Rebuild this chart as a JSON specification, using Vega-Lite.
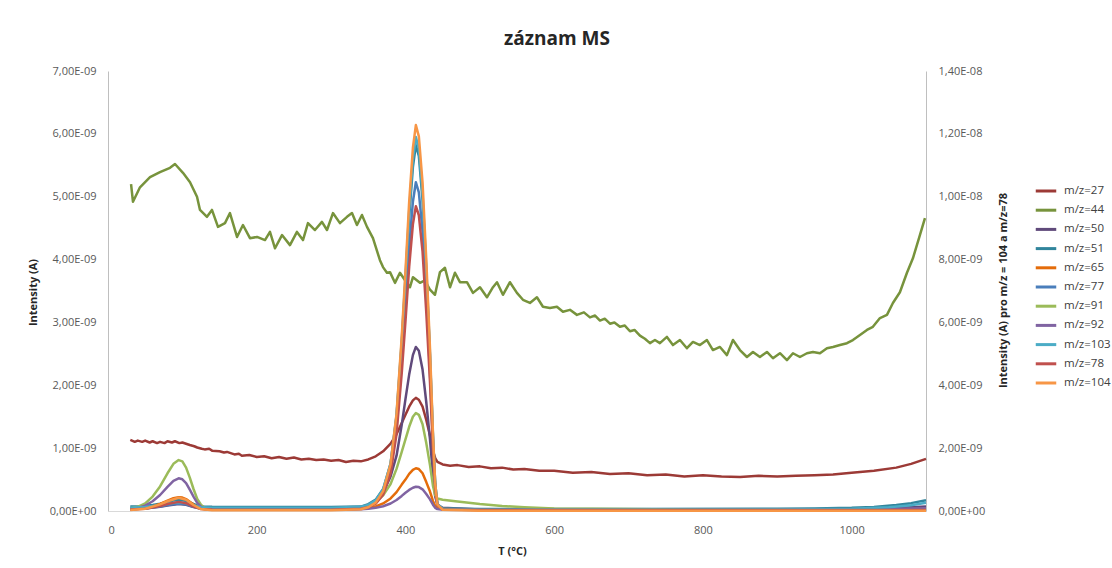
{
"$schema": "https://vega.github.io/schema/vega-lite/v6.json",
"width": 818, "height": 440,
"autosize": {"type": "none"},
"padding": {"left": 108, "top": 71, "right": 186, "bottom": 57},
"background": "white",
"config": {"view": {"stroke": null}, "font": "Open Sans",
 "axis": {"grid": false, "labelFont": "Open Sans", "labelFontSize": 11, "labelColor": "#595959", "titleFont": "Open Sans", "titleFontSize": 11, "titleFontWeight": "bold", "titleColor": "#262626", "domainColor": "#BFBFBF", "ticks": false}},
"title": {"text": "záznam MS", "fontSize": 19, "fontWeight": "bold", "font": "Open Sans", "color": "#262626", "anchor": "middle", "dx": 40, "offset": 16},
"datasets": {"ms": [
{"mz":"m/z=27","T":30,"I":1.13e-9},{"mz":"m/z=27","T":36,"I":1.10e-9},{"mz":"m/z=27","T":40,"I":1.12e-9},{"mz":"m/z=27","T":46,"I":1.10e-9},{"mz":"m/z=27","T":50,"I":1.12e-9},{"mz":"m/z=27","T":56,"I":1.09e-9},{"mz":"m/z=27","T":60,"I":1.11e-9},{"mz":"m/z=27","T":66,"I":1.08e-9},{"mz":"m/z=27","T":70,"I":1.10e-9},{"mz":"m/z=27","T":76,"I":1.08e-9},{"mz":"m/z=27","T":80,"I":1.11e-9},{"mz":"m/z=27","T":86,"I":1.09e-9},{"mz":"m/z=27","T":90,"I":1.11e-9},{"mz":"m/z=27","T":96,"I":1.08e-9},{"mz":"m/z=27","T":100,"I":1.09e-9},{"mz":"m/z=27","T":110,"I":1.05e-9},{"mz":"m/z=27","T":116,"I":1.03e-9},{"mz":"m/z=27","T":120,"I":1.01e-9},{"mz":"m/z=27","T":126,"I":0.99e-9},{"mz":"m/z=27","T":130,"I":0.98e-9},{"mz":"m/z=27","T":136,"I":0.99e-9},{"mz":"m/z=27","T":140,"I":0.96e-9},{"mz":"m/z=27","T":150,"I":0.95e-9},{"mz":"m/z=27","T":156,"I":0.93e-9},{"mz":"m/z=27","T":160,"I":0.94e-9},{"mz":"m/z=27","T":170,"I":0.90e-9},{"mz":"m/z=27","T":176,"I":0.91e-9},{"mz":"m/z=27","T":180,"I":0.88e-9},{"mz":"m/z=27","T":190,"I":0.89e-9},{"mz":"m/z=27","T":200,"I":0.86e-9},{"mz":"m/z=27","T":210,"I":0.87e-9},{"mz":"m/z=27","T":220,"I":0.84e-9},{"mz":"m/z=27","T":230,"I":0.86e-9},{"mz":"m/z=27","T":240,"I":0.83e-9},{"mz":"m/z=27","T":250,"I":0.85e-9},{"mz":"m/z=27","T":260,"I":0.82e-9},{"mz":"m/z=27","T":270,"I":0.83e-9},{"mz":"m/z=27","T":280,"I":0.81e-9},{"mz":"m/z=27","T":290,"I":0.82e-9},{"mz":"m/z=27","T":300,"I":0.80e-9},{"mz":"m/z=27","T":310,"I":0.81e-9},{"mz":"m/z=27","T":320,"I":0.78e-9},{"mz":"m/z=27","T":330,"I":0.80e-9},{"mz":"m/z=27","T":340,"I":0.79e-9},{"mz":"m/z=27","T":350,"I":0.82e-9},{"mz":"m/z=27","T":360,"I":0.87e-9},{"mz":"m/z=27","T":370,"I":0.95e-9},{"mz":"m/z=27","T":380,"I":1.07e-9},{"mz":"m/z=27","T":388,"I":1.22e-9},{"mz":"m/z=27","T":395,"I":1.40e-9},{"mz":"m/z=27","T":400,"I":1.53e-9},{"mz":"m/z=27","T":405,"I":1.66e-9},{"mz":"m/z=27","T":410,"I":1.76e-9},{"mz":"m/z=27","T":414,"I":1.80e-9},{"mz":"m/z=27","T":418,"I":1.77e-9},{"mz":"m/z=27","T":423,"I":1.66e-9},{"mz":"m/z=27","T":428,"I":1.45e-9},{"mz":"m/z=27","T":433,"I":1.20e-9},{"mz":"m/z=27","T":437,"I":0.96e-9},{"mz":"m/z=27","T":440,"I":0.84e-9},{"mz":"m/z=27","T":443,"I":0.78e-9},{"mz":"m/z=27","T":450,"I":0.74e-9},{"mz":"m/z=27","T":460,"I":0.72e-9},{"mz":"m/z=27","T":470,"I":0.73e-9},{"mz":"m/z=27","T":485,"I":0.70e-9},{"mz":"m/z=27","T":500,"I":0.71e-9},{"mz":"m/z=27","T":515,"I":0.68e-9},{"mz":"m/z=27","T":530,"I":0.69e-9},{"mz":"m/z=27","T":545,"I":0.66e-9},{"mz":"m/z=27","T":560,"I":0.67e-9},{"mz":"m/z=27","T":580,"I":0.64e-9},{"mz":"m/z=27","T":600,"I":0.64e-9},{"mz":"m/z=27","T":625,"I":0.61e-9},{"mz":"m/z=27","T":650,"I":0.62e-9},{"mz":"m/z=27","T":675,"I":0.59e-9},{"mz":"m/z=27","T":700,"I":0.60e-9},{"mz":"m/z=27","T":725,"I":0.57e-9},{"mz":"m/z=27","T":750,"I":0.58e-9},{"mz":"m/z=27","T":775,"I":0.55e-9},{"mz":"m/z=27","T":800,"I":0.57e-9},{"mz":"m/z=27","T":825,"I":0.55e-9},{"mz":"m/z=27","T":850,"I":0.54e-9},{"mz":"m/z=27","T":875,"I":0.56e-9},{"mz":"m/z=27","T":900,"I":0.55e-9},{"mz":"m/z=27","T":925,"I":0.56e-9},{"mz":"m/z=27","T":950,"I":0.57e-9},{"mz":"m/z=27","T":975,"I":0.58e-9},{"mz":"m/z=27","T":1000,"I":0.61e-9},{"mz":"m/z=27","T":1030,"I":0.64e-9},{"mz":"m/z=27","T":1060,"I":0.69e-9},{"mz":"m/z=27","T":1080,"I":0.75e-9},{"mz":"m/z=27","T":1100,"I":0.83e-9},
{"mz":"m/z=44","T":31,"I":5.20e-9},{"mz":"m/z=44","T":33.6,"I":4.92e-9},{"mz":"m/z=44","T":43,"I":5.15e-9},{"mz":"m/z=44","T":56.5,"I":5.31e-9},{"mz":"m/z=44","T":69.9,"I":5.39e-9},{"mz":"m/z=44","T":83.4,"I":5.46e-9},{"mz":"m/z=44","T":90.1,"I":5.52e-9},{"mz":"m/z=44","T":100.8,"I":5.38e-9},{"mz":"m/z=44","T":110.3,"I":5.23e-9},{"mz":"m/z=44","T":119.7,"I":5.00e-9},{"mz":"m/z=44","T":123.7,"I":4.79e-9},{"mz":"m/z=44","T":133.1,"I":4.68e-9},{"mz":"m/z=44","T":139.8,"I":4.79e-9},{"mz":"m/z=44","T":147.9,"I":4.52e-9},{"mz":"m/z=44","T":157.3,"I":4.58e-9},{"mz":"m/z=44","T":164,"I":4.74e-9},{"mz":"m/z=44","T":173.5,"I":4.36e-9},{"mz":"m/z=44","T":181.5,"I":4.55e-9},{"mz":"m/z=44","T":190.9,"I":4.34e-9},{"mz":"m/z=44","T":200.4,"I":4.36e-9},{"mz":"m/z=44","T":211.1,"I":4.31e-9},{"mz":"m/z=44","T":217.8,"I":4.44e-9},{"mz":"m/z=44","T":224.6,"I":4.18e-9},{"mz":"m/z=44","T":234,"I":4.39e-9},{"mz":"m/z=44","T":244.7,"I":4.23e-9},{"mz":"m/z=44","T":254.1,"I":4.44e-9},{"mz":"m/z=44","T":262.2,"I":4.31e-9},{"mz":"m/z=44","T":268.9,"I":4.58e-9},{"mz":"m/z=44","T":278.3,"I":4.47e-9},{"mz":"m/z=44","T":287.7,"I":4.60e-9},{"mz":"m/z=44","T":294.5,"I":4.47e-9},{"mz":"m/z=44","T":302.5,"I":4.74e-9},{"mz":"m/z=44","T":311.9,"I":4.58e-9},{"mz":"m/z=44","T":321.4,"I":4.68e-9},{"mz":"m/z=44","T":328.1,"I":4.74e-9},{"mz":"m/z=44","T":334.8,"I":4.55e-9},{"mz":"m/z=44","T":341.5,"I":4.71e-9},{"mz":"m/z=44","T":348.3,"I":4.52e-9},{"mz":"m/z=44","T":356.3,"I":4.34e-9},{"mz":"m/z=44","T":365.7,"I":3.99e-9},{"mz":"m/z=44","T":369.8,"I":3.88e-9},{"mz":"m/z=44","T":375.1,"I":3.79e-9},{"mz":"m/z=44","T":379.2,"I":3.80e-9},{"mz":"m/z=44","T":385.9,"I":3.63e-9},{"mz":"m/z=44","T":392.6,"I":3.79e-9},{"mz":"m/z=44","T":399.4,"I":3.67e-9},{"mz":"m/z=44","T":406.1,"I":3.56e-9},{"mz":"m/z=44","T":410.1,"I":3.72e-9},{"mz":"m/z=44","T":419.5,"I":3.63e-9},{"mz":"m/z=44","T":426.2,"I":3.67e-9},{"mz":"m/z=44","T":433,"I":3.52e-9},{"mz":"m/z=44","T":439.7,"I":3.44e-9},{"mz":"m/z=44","T":446.4,"I":3.80e-9},{"mz":"m/z=44","T":453.1,"I":3.87e-9},{"mz":"m/z=44","T":459.9,"I":3.56e-9},{"mz":"m/z=44","T":466.6,"I":3.79e-9},{"mz":"m/z=44","T":473.3,"I":3.64e-9},{"mz":"m/z=44","T":482.7,"I":3.64e-9},{"mz":"m/z=44","T":490.8,"I":3.47e-9},{"mz":"m/z=44","T":500.2,"I":3.56e-9},{"mz":"m/z=44","T":509.6,"I":3.40e-9},{"mz":"m/z=44","T":517.7,"I":3.56e-9},{"mz":"m/z=44","T":523.1,"I":3.64e-9},{"mz":"m/z=44","T":531.1,"I":3.44e-9},{"mz":"m/z=44","T":540.5,"I":3.64e-9},{"mz":"m/z=44","T":549.9,"I":3.47e-9},{"mz":"m/z=44","T":558,"I":3.36e-9},{"mz":"m/z=44","T":567.4,"I":3.31e-9},{"mz":"m/z=44","T":576.8,"I":3.40e-9},{"mz":"m/z=44","T":584.9,"I":3.25e-9},{"mz":"m/z=44","T":594.3,"I":3.23e-9},{"mz":"m/z=44","T":603.7,"I":3.25e-9},{"mz":"m/z=44","T":611.8,"I":3.17e-9},{"mz":"m/z=44","T":621.2,"I":3.20e-9},{"mz":"m/z=44","T":630.6,"I":3.12e-9},{"mz":"m/z=44","T":640,"I":3.16e-9},{"mz":"m/z=44","T":648.1,"I":3.08e-9},{"mz":"m/z=44","T":655,"I":3.11e-9},{"mz":"m/z=44","T":661.6,"I":3.03e-9},{"mz":"m/z=44","T":668,"I":3.06e-9},{"mz":"m/z=44","T":675,"I":2.98e-9},{"mz":"m/z=44","T":681,"I":3.00e-9},{"mz":"m/z=44","T":688.4,"I":2.93e-9},{"mz":"m/z=44","T":695,"I":2.95e-9},{"mz":"m/z=44","T":701.9,"I":2.86e-9},{"mz":"m/z=44","T":708,"I":2.88e-9},{"mz":"m/z=44","T":715.3,"I":2.79e-9},{"mz":"m/z=44","T":722,"I":2.74e-9},{"mz":"m/z=44","T":728.8,"I":2.67e-9},{"mz":"m/z=44","T":735.5,"I":2.72e-9},{"mz":"m/z=44","T":742.2,"I":2.67e-9},{"mz":"m/z=44","T":751.6,"I":2.77e-9},{"mz":"m/z=44","T":759.7,"I":2.64e-9},{"mz":"m/z=44","T":769.1,"I":2.72e-9},{"mz":"m/z=44","T":778.5,"I":2.59e-9},{"mz":"m/z=44","T":786.6,"I":2.69e-9},{"mz":"m/z=44","T":796,"I":2.64e-9},{"mz":"m/z=44","T":805.4,"I":2.72e-9},{"mz":"m/z=44","T":813.5,"I":2.56e-9},{"mz":"m/z=44","T":822.9,"I":2.61e-9},{"mz":"m/z=44","T":832.3,"I":2.48e-9},{"mz":"m/z=44","T":840.4,"I":2.72e-9},{"mz":"m/z=44","T":849.8,"I":2.56e-9},{"mz":"m/z=44","T":859.2,"I":2.45e-9},{"mz":"m/z=44","T":867.3,"I":2.53e-9},{"mz":"m/z=44","T":876.7,"I":2.45e-9},{"mz":"m/z=44","T":886.1,"I":2.53e-9},{"mz":"m/z=44","T":894.2,"I":2.43e-9},{"mz":"m/z=44","T":903.6,"I":2.51e-9},{"mz":"m/z=44","T":913,"I":2.40e-9},{"mz":"m/z=44","T":921.1,"I":2.51e-9},{"mz":"m/z=44","T":930.5,"I":2.45e-9},{"mz":"m/z=44","T":939.9,"I":2.51e-9},{"mz":"m/z=44","T":948,"I":2.53e-9},{"mz":"m/z=44","T":957.4,"I":2.51e-9},{"mz":"m/z=44","T":966.8,"I":2.59e-9},{"mz":"m/z=44","T":974.9,"I":2.61e-9},{"mz":"m/z=44","T":984.3,"I":2.64e-9},{"mz":"m/z=44","T":993.7,"I":2.67e-9},{"mz":"m/z=44","T":1001.7,"I":2.72e-9},{"mz":"m/z=44","T":1011.2,"I":2.80e-9},{"mz":"m/z=44","T":1020.6,"I":2.88e-9},{"mz":"m/z=44","T":1028.6,"I":2.93e-9},{"mz":"m/z=44","T":1038.1,"I":3.07e-9},{"mz":"m/z=44","T":1047.5,"I":3.12e-9},{"mz":"m/z=44","T":1055.5,"I":3.31e-9},{"mz":"m/z=44","T":1064.9,"I":3.48e-9},{"mz":"m/z=44","T":1074.4,"I":3.79e-9},{"mz":"m/z=44","T":1082.4,"I":4.02e-9},{"mz":"m/z=44","T":1091.8,"I":4.39e-9},{"mz":"m/z=44","T":1098.6,"I":4.66e-9},
{"mz":"m/z=50","T":30,"I":0.032e-9},{"mz":"m/z=50","T":50,"I":0.04e-9},{"mz":"m/z=50","T":70,"I":0.068e-9},{"mz":"m/z=50","T":80,"I":0.088e-9},{"mz":"m/z=50","T":95,"I":0.11e-9},{"mz":"m/z=50","T":105,"I":0.098e-9},{"mz":"m/z=50","T":115,"I":0.064e-9},{"mz":"m/z=50","T":125,"I":0.038e-9},{"mz":"m/z=50","T":140,"I":0.031e-9},{"mz":"m/z=50","T":200,"I":0.03e-9},{"mz":"m/z=50","T":300,"I":0.03e-9},{"mz":"m/z=50","T":340,"I":0.056e-9},{"mz":"m/z=50","T":350,"I":0.082e-9},{"mz":"m/z=50","T":360,"I":0.16e-9},{"mz":"m/z=50","T":370,"I":0.29e-9},{"mz":"m/z=50","T":380,"I":0.55e-9},{"mz":"m/z=50","T":388,"I":0.88e-9},{"mz":"m/z=50","T":395,"I":1.37e-9},{"mz":"m/z=50","T":400,"I":1.78e-9},{"mz":"m/z=50","T":405,"I":2.17e-9},{"mz":"m/z=50","T":410,"I":2.48e-9},{"mz":"m/z=50","T":414,"I":2.61e-9},{"mz":"m/z=50","T":418,"I":2.55e-9},{"mz":"m/z=50","T":423,"I":2.25e-9},{"mz":"m/z=50","T":428,"I":1.73e-9},{"mz":"m/z=50","T":433,"I":1.14e-9},{"mz":"m/z=50","T":437,"I":0.57e-9},{"mz":"m/z=50","T":440,"I":0.23e-9},{"mz":"m/z=50","T":443,"I":0.1e-9},{"mz":"m/z=50","T":450,"I":0.05e-9},{"mz":"m/z=50","T":500,"I":0.025e-9},{"mz":"m/z=50","T":700,"I":0.02e-9},{"mz":"m/z=50","T":900,"I":0.025e-9},{"mz":"m/z=50","T":1000,"I":0.03e-9},{"mz":"m/z=50","T":1050,"I":0.045e-9},{"mz":"m/z=50","T":1080,"I":0.06e-9},{"mz":"m/z=50","T":1100,"I":0.07e-9},
{"mz":"m/z=51","T":30,"I":0.07e-9},{"mz":"m/z=51","T":40,"I":0.072e-9},{"mz":"m/z=51","T":50,"I":0.08e-9},{"mz":"m/z=51","T":60,"I":0.095e-9},{"mz":"m/z=51","T":70,"I":0.117e-9},{"mz":"m/z=51","T":80,"I":0.145e-9},{"mz":"m/z=51","T":88,"I":0.166e-9},{"mz":"m/z=51","T":95,"I":0.175e-9},{"mz":"m/z=51","T":100,"I":0.172e-9},{"mz":"m/z=51","T":105,"I":0.158e-9},{"mz":"m/z=51","T":110,"I":0.135e-9},{"mz":"m/z=51","T":115,"I":0.111e-9},{"mz":"m/z=51","T":120,"I":0.089e-9},{"mz":"m/z=51","T":125,"I":0.076e-9},{"mz":"m/z=51","T":130,"I":0.069e-9},{"mz":"m/z=51","T":140,"I":0.066e-9},{"mz":"m/z=51","T":200,"I":0.064e-9},{"mz":"m/z=51","T":250,"I":0.065e-9},{"mz":"m/z=51","T":300,"I":0.063e-9},{"mz":"m/z=51","T":340,"I":0.07e-9},{"mz":"m/z=51","T":350,"I":0.11e-9},{"mz":"m/z=51","T":360,"I":0.18e-9},{"mz":"m/z=51","T":370,"I":0.35e-9},{"mz":"m/z=51","T":380,"I":0.75e-9},{"mz":"m/z=51","T":388,"I":1.5e-9},{"mz":"m/z=51","T":395,"I":2.65e-9},{"mz":"m/z=51","T":400,"I":3.65e-9},{"mz":"m/z=51","T":405,"I":4.68e-9},{"mz":"m/z=51","T":410,"I":5.47e-9},{"mz":"m/z=51","T":414,"I":5.82e-9},{"mz":"m/z=51","T":418,"I":5.65e-9},{"mz":"m/z=51","T":423,"I":4.95e-9},{"mz":"m/z=51","T":428,"I":3.8e-9},{"mz":"m/z=51","T":433,"I":2.45e-9},{"mz":"m/z=51","T":437,"I":1.18e-9},{"mz":"m/z=51","T":440,"I":0.43e-9},{"mz":"m/z=51","T":443,"I":0.11e-9},{"mz":"m/z=51","T":450,"I":0.04e-9},{"mz":"m/z=51","T":500,"I":0.03e-9},{"mz":"m/z=51","T":700,"I":0.03e-9},{"mz":"m/z=51","T":900,"I":0.035e-9},{"mz":"m/z=51","T":950,"I":0.04e-9},{"mz":"m/z=51","T":1000,"I":0.05e-9},{"mz":"m/z=51","T":1030,"I":0.065e-9},{"mz":"m/z=51","T":1060,"I":0.095e-9},{"mz":"m/z=51","T":1080,"I":0.125e-9},{"mz":"m/z=51","T":1100,"I":0.17e-9},
{"mz":"m/z=65","T":30,"I":0.026e-9},{"mz":"m/z=65","T":40,"I":0.032e-9},{"mz":"m/z=65","T":50,"I":0.046e-9},{"mz":"m/z=65","T":60,"I":0.074e-9},{"mz":"m/z=65","T":70,"I":0.114e-9},{"mz":"m/z=65","T":80,"I":0.166e-9},{"mz":"m/z=65","T":88,"I":0.204e-9},{"mz":"m/z=65","T":95,"I":0.22e-9},{"mz":"m/z=65","T":100,"I":0.214e-9},{"mz":"m/z=65","T":105,"I":0.19e-9},{"mz":"m/z=65","T":110,"I":0.148e-9},{"mz":"m/z=65","T":115,"I":0.104e-9},{"mz":"m/z=65","T":120,"I":0.064e-9},{"mz":"m/z=65","T":125,"I":0.04e-9},{"mz":"m/z=65","T":130,"I":0.028e-9},{"mz":"m/z=65","T":140,"I":0.022e-9},{"mz":"m/z=65","T":200,"I":0.02e-9},{"mz":"m/z=65","T":300,"I":0.02e-9},{"mz":"m/z=65","T":340,"I":0.033e-9},{"mz":"m/z=65","T":350,"I":0.046e-9},{"mz":"m/z=65","T":360,"I":0.073e-9},{"mz":"m/z=65","T":370,"I":0.12e-9},{"mz":"m/z=65","T":380,"I":0.2e-9},{"mz":"m/z=65","T":388,"I":0.3e-9},{"mz":"m/z=65","T":395,"I":0.42e-9},{"mz":"m/z=65","T":400,"I":0.5e-9},{"mz":"m/z=65","T":405,"I":0.59e-9},{"mz":"m/z=65","T":410,"I":0.655e-9},{"mz":"m/z=65","T":414,"I":0.68e-9},{"mz":"m/z=65","T":418,"I":0.667e-9},{"mz":"m/z=65","T":423,"I":0.6e-9},{"mz":"m/z=65","T":428,"I":0.46e-9},{"mz":"m/z=65","T":433,"I":0.31e-9},{"mz":"m/z=65","T":437,"I":0.16e-9},{"mz":"m/z=65","T":440,"I":0.08e-9},{"mz":"m/z=65","T":443,"I":0.045e-9},{"mz":"m/z=65","T":450,"I":0.03e-9},{"mz":"m/z=65","T":500,"I":0.015e-9},{"mz":"m/z=65","T":600,"I":0.01e-9},{"mz":"m/z=65","T":1100,"I":0.01e-9},
{"mz":"m/z=77","T":30,"I":0.033e-9},{"mz":"m/z=77","T":50,"I":0.042e-9},{"mz":"m/z=77","T":70,"I":0.072e-9},{"mz":"m/z=77","T":80,"I":0.096e-9},{"mz":"m/z=77","T":95,"I":0.12e-9},{"mz":"m/z=77","T":105,"I":0.107e-9},{"mz":"m/z=77","T":115,"I":0.068e-9},{"mz":"m/z=77","T":125,"I":0.039e-9},{"mz":"m/z=77","T":140,"I":0.031e-9},{"mz":"m/z=77","T":300,"I":0.03e-9},{"mz":"m/z=77","T":340,"I":0.046e-9},{"mz":"m/z=77","T":350,"I":0.072e-9},{"mz":"m/z=77","T":360,"I":0.134e-9},{"mz":"m/z=77","T":370,"I":0.29e-9},{"mz":"m/z=77","T":380,"I":0.65e-9},{"mz":"m/z=77","T":388,"I":1.33e-9},{"mz":"m/z=77","T":395,"I":2.37e-9},{"mz":"m/z=77","T":400,"I":3.25e-9},{"mz":"m/z=77","T":405,"I":4.19e-9},{"mz":"m/z=77","T":410,"I":4.92e-9},{"mz":"m/z=77","T":414,"I":5.23e-9},{"mz":"m/z=77","T":418,"I":5.07e-9},{"mz":"m/z=77","T":423,"I":4.45e-9},{"mz":"m/z=77","T":428,"I":3.41e-9},{"mz":"m/z=77","T":433,"I":2.2e-9},{"mz":"m/z=77","T":437,"I":1.06e-9},{"mz":"m/z=77","T":440,"I":0.38e-9},{"mz":"m/z=77","T":443,"I":0.09e-9},{"mz":"m/z=77","T":450,"I":0.03e-9},{"mz":"m/z=77","T":500,"I":0.02e-9},{"mz":"m/z=77","T":1100,"I":0.025e-9},
{"mz":"m/z=91","T":30,"I":0.044e-9},{"mz":"m/z=91","T":40,"I":0.067e-9},{"mz":"m/z=91","T":50,"I":0.12e-9},{"mz":"m/z=91","T":60,"I":0.23e-9},{"mz":"m/z=91","T":70,"I":0.39e-9},{"mz":"m/z=91","T":80,"I":0.6e-9},{"mz":"m/z=91","T":88,"I":0.75e-9},{"mz":"m/z=91","T":95,"I":0.81e-9},{"mz":"m/z=91","T":100,"I":0.79e-9},{"mz":"m/z=91","T":105,"I":0.69e-9},{"mz":"m/z=91","T":110,"I":0.53e-9},{"mz":"m/z=91","T":115,"I":0.35e-9},{"mz":"m/z=91","T":120,"I":0.19e-9},{"mz":"m/z=91","T":125,"I":0.1e-9},{"mz":"m/z=91","T":130,"I":0.05e-9},{"mz":"m/z=91","T":140,"I":0.03e-9},{"mz":"m/z=91","T":160,"I":0.02e-9},{"mz":"m/z=91","T":250,"I":0.02e-9},{"mz":"m/z=91","T":340,"I":0.05e-9},{"mz":"m/z=91","T":350,"I":0.08e-9},{"mz":"m/z=91","T":360,"I":0.14e-9},{"mz":"m/z=91","T":370,"I":0.25e-9},{"mz":"m/z=91","T":380,"I":0.43e-9},{"mz":"m/z=91","T":388,"I":0.67e-9},{"mz":"m/z=91","T":395,"I":0.94e-9},{"mz":"m/z=91","T":400,"I":1.14e-9},{"mz":"m/z=91","T":405,"I":1.34e-9},{"mz":"m/z=91","T":410,"I":1.5e-9},{"mz":"m/z=91","T":414,"I":1.56e-9},{"mz":"m/z=91","T":418,"I":1.53e-9},{"mz":"m/z=91","T":423,"I":1.38e-9},{"mz":"m/z=91","T":428,"I":1.08e-9},{"mz":"m/z=91","T":433,"I":0.73e-9},{"mz":"m/z=91","T":437,"I":0.4e-9},{"mz":"m/z=91","T":440,"I":0.25e-9},{"mz":"m/z=91","T":443,"I":0.2e-9},{"mz":"m/z=91","T":450,"I":0.18e-9},{"mz":"m/z=91","T":470,"I":0.15e-9},{"mz":"m/z=91","T":500,"I":0.11e-9},{"mz":"m/z=91","T":530,"I":0.08e-9},{"mz":"m/z=91","T":560,"I":0.06e-9},{"mz":"m/z=91","T":600,"I":0.04e-9},{"mz":"m/z=91","T":700,"I":0.03e-9},{"mz":"m/z=91","T":800,"I":0.02e-9},{"mz":"m/z=91","T":1000,"I":0.02e-9},{"mz":"m/z=91","T":1100,"I":0.03e-9},
{"mz":"m/z=92","T":30,"I":0.035e-9},{"mz":"m/z=92","T":40,"I":0.05e-9},{"mz":"m/z=92","T":50,"I":0.085e-9},{"mz":"m/z=92","T":60,"I":0.155e-9},{"mz":"m/z=92","T":70,"I":0.255e-9},{"mz":"m/z=92","T":80,"I":0.385e-9},{"mz":"m/z=92","T":88,"I":0.48e-9},{"mz":"m/z=92","T":95,"I":0.52e-9},{"mz":"m/z=92","T":100,"I":0.505e-9},{"mz":"m/z=92","T":105,"I":0.445e-9},{"mz":"m/z=92","T":110,"I":0.34e-9},{"mz":"m/z=92","T":115,"I":0.23e-9},{"mz":"m/z=92","T":120,"I":0.13e-9},{"mz":"m/z=92","T":125,"I":0.07e-9},{"mz":"m/z=92","T":130,"I":0.04e-9},{"mz":"m/z=92","T":140,"I":0.025e-9},{"mz":"m/z=92","T":200,"I":0.02e-9},{"mz":"m/z=92","T":300,"I":0.02e-9},{"mz":"m/z=92","T":340,"I":0.027e-9},{"mz":"m/z=92","T":350,"I":0.035e-9},{"mz":"m/z=92","T":360,"I":0.05e-9},{"mz":"m/z=92","T":370,"I":0.075e-9},{"mz":"m/z=92","T":380,"I":0.12e-9},{"mz":"m/z=92","T":388,"I":0.175e-9},{"mz":"m/z=92","T":395,"I":0.24e-9},{"mz":"m/z=92","T":400,"I":0.29e-9},{"mz":"m/z=92","T":405,"I":0.335e-9},{"mz":"m/z=92","T":410,"I":0.37e-9},{"mz":"m/z=92","T":414,"I":0.385e-9},{"mz":"m/z=92","T":418,"I":0.38e-9},{"mz":"m/z=92","T":423,"I":0.345e-9},{"mz":"m/z=92","T":428,"I":0.27e-9},{"mz":"m/z=92","T":433,"I":0.185e-9},{"mz":"m/z=92","T":437,"I":0.1e-9},{"mz":"m/z=92","T":440,"I":0.05e-9},{"mz":"m/z=92","T":443,"I":0.03e-9},{"mz":"m/z=92","T":450,"I":0.02e-9},{"mz":"m/z=92","T":600,"I":0.015e-9},{"mz":"m/z=92","T":900,"I":0.015e-9},{"mz":"m/z=92","T":1000,"I":0.02e-9},{"mz":"m/z=92","T":1050,"I":0.03e-9},{"mz":"m/z=92","T":1100,"I":0.045e-9},
{"mz":"m/z=103","T":30,"I":0.053e-9},{"mz":"m/z=103","T":50,"I":0.062e-9},{"mz":"m/z=103","T":70,"I":0.092e-9},{"mz":"m/z=103","T":80,"I":0.116e-9},{"mz":"m/z=103","T":95,"I":0.14e-9},{"mz":"m/z=103","T":105,"I":0.127e-9},{"mz":"m/z=103","T":115,"I":0.088e-9},{"mz":"m/z=103","T":125,"I":0.059e-9},{"mz":"m/z=103","T":140,"I":0.051e-9},{"mz":"m/z=103","T":200,"I":0.05e-9},{"mz":"m/z=103","T":300,"I":0.05e-9},{"mz":"m/z=103","T":340,"I":0.068e-9},{"mz":"m/z=103","T":350,"I":0.097e-9},{"mz":"m/z=103","T":360,"I":0.168e-9},{"mz":"m/z=103","T":370,"I":0.346e-9},{"mz":"m/z=103","T":380,"I":0.76e-9},{"mz":"m/z=103","T":388,"I":1.53e-9},{"mz":"m/z=103","T":395,"I":2.71e-9},{"mz":"m/z=103","T":400,"I":3.72e-9},{"mz":"m/z=103","T":405,"I":4.78e-9},{"mz":"m/z=103","T":410,"I":5.6e-9},{"mz":"m/z=103","T":414,"I":5.95e-9},{"mz":"m/z=103","T":418,"I":5.77e-9},{"mz":"m/z=103","T":423,"I":5.05e-9},{"mz":"m/z=103","T":428,"I":3.87e-9},{"mz":"m/z=103","T":433,"I":2.5e-9},{"mz":"m/z=103","T":437,"I":1.2e-9},{"mz":"m/z=103","T":440,"I":0.44e-9},{"mz":"m/z=103","T":443,"I":0.11e-9},{"mz":"m/z=103","T":450,"I":0.035e-9},{"mz":"m/z=103","T":500,"I":0.02e-9},{"mz":"m/z=103","T":800,"I":0.02e-9},{"mz":"m/z=103","T":900,"I":0.025e-9},{"mz":"m/z=103","T":1000,"I":0.035e-9},{"mz":"m/z=103","T":1050,"I":0.06e-9},{"mz":"m/z=103","T":1080,"I":0.09e-9},{"mz":"m/z=103","T":1100,"I":0.13e-9},
{"mz":"m/z=78","T":30,"I":0.05e-9},{"mz":"m/z=78","T":50,"I":0.07e-9},{"mz":"m/z=78","T":70,"I":0.16e-9},{"mz":"m/z=78","T":80,"I":0.22e-9},{"mz":"m/z=78","T":95,"I":0.29e-9},{"mz":"m/z=78","T":105,"I":0.25e-9},{"mz":"m/z=78","T":115,"I":0.14e-9},{"mz":"m/z=78","T":125,"I":0.065e-9},{"mz":"m/z=78","T":140,"I":0.045e-9},{"mz":"m/z=78","T":300,"I":0.04e-9},{"mz":"m/z=78","T":340,"I":0.07e-9},{"mz":"m/z=78","T":350,"I":0.117e-9},{"mz":"m/z=78","T":360,"I":0.233e-9},{"mz":"m/z=78","T":370,"I":0.52e-9},{"mz":"m/z=78","T":380,"I":1.2e-9},{"mz":"m/z=78","T":388,"I":2.45e-9},{"mz":"m/z=78","T":395,"I":4.39e-9},{"mz":"m/z=78","T":400,"I":6.03e-9},{"mz":"m/z=78","T":405,"I":7.77e-9},{"mz":"m/z=78","T":410,"I":9.12e-9},{"mz":"m/z=78","T":414,"I":9.7e-9},{"mz":"m/z=78","T":418,"I":9.41e-9},{"mz":"m/z=78","T":423,"I":8.25e-9},{"mz":"m/z=78","T":428,"I":6.32e-9},{"mz":"m/z=78","T":433,"I":4.09e-9},{"mz":"m/z=78","T":437,"I":1.97e-9},{"mz":"m/z=78","T":440,"I":0.72e-9},{"mz":"m/z=78","T":443,"I":0.18e-9},{"mz":"m/z=78","T":450,"I":0.05e-9},{"mz":"m/z=78","T":500,"I":0.03e-9},{"mz":"m/z=78","T":1100,"I":0.03e-9},
{"mz":"m/z=104","T":30,"I":0.03e-9},{"mz":"m/z=104","T":50,"I":0.07e-9},{"mz":"m/z=104","T":70,"I":0.21e-9},{"mz":"m/z=104","T":80,"I":0.31e-9},{"mz":"m/z=104","T":95,"I":0.42e-9},{"mz":"m/z=104","T":105,"I":0.36e-9},{"mz":"m/z=104","T":115,"I":0.19e-9},{"mz":"m/z=104","T":125,"I":0.06e-9},{"mz":"m/z=104","T":140,"I":0.025e-9},{"mz":"m/z=104","T":300,"I":0.02e-9},{"mz":"m/z=104","T":340,"I":0.057e-9},{"mz":"m/z=104","T":350,"I":0.118e-9},{"mz":"m/z=104","T":360,"I":0.266e-9},{"mz":"m/z=104","T":370,"I":0.634e-9},{"mz":"m/z=104","T":380,"I":1.49e-9},{"mz":"m/z=104","T":388,"I":3.09e-9},{"mz":"m/z=104","T":395,"I":5.55e-9},{"mz":"m/z=104","T":400,"I":7.63e-9},{"mz":"m/z=104","T":405,"I":9.84e-9},{"mz":"m/z=104","T":410,"I":11.55e-9},{"mz":"m/z=104","T":414,"I":12.28e-9},{"mz":"m/z=104","T":418,"I":11.92e-9},{"mz":"m/z=104","T":423,"I":10.45e-9},{"mz":"m/z=104","T":428,"I":8.0e-9},{"mz":"m/z=104","T":433,"I":5.17e-9},{"mz":"m/z=104","T":437,"I":2.47e-9},{"mz":"m/z=104","T":440,"I":0.88e-9},{"mz":"m/z=104","T":443,"I":0.2e-9},{"mz":"m/z=104","T":450,"I":0.04e-9},{"mz":"m/z=104","T":500,"I":0.01e-9},{"mz":"m/z=104","T":1100,"I":0.01e-9}
]},
"data": {"name": "ms"},
"encoding": {
 "x": {"field": "T", "type": "quantitative", "scale": {"domain": [0, 1100], "nice": false},
  "axis": {"values": [0, 200, 400, 600, 800, 1000], "format": "d", "title": "T (°C)", "labelPadding": 13, "titleX": 404, "titleY": 40, "titleAlign": "center", "titleBaseline": "middle", "domainColor": "#D9D9D9"}},
 "color": {"field": "mz", "type": "nominal",
  "scale": {"domain": ["m/z=27","m/z=44","m/z=50","m/z=51","m/z=65","m/z=77","m/z=91","m/z=92","m/z=103","m/z=78","m/z=104"],
   "range": ["#9C3A36","#77933C","#604A7B","#31859C","#E46C0A","#4A7EBB","#9BBB59","#8064A2","#4BACC6","#C0504D","#F79646"]},
  "legend": {"title": null, "orient": "none", "legendX": 926, "legendY": 108, "symbolType": "stroke", "symbolSize": 420, "symbolStrokeWidth": 3, "labelFont": "Open Sans", "labelFontSize": 11.5, "labelColor": "#404040", "labelOffset": 6, "rowPadding": 1.2, "padding": 0}}
},
"layer": [
 {"transform": [{"filter": "datum.mz != 'm/z=78' && datum.mz != 'm/z=104'"}],
  "mark": {"type": "line", "strokeWidth": 2.5, "strokeJoin": "round"},
  "encoding": {"y": {"field": "I", "type": "quantitative", "scale": {"domain": [0, 7e-9], "nice": false},
   "axis": {"orient": "left", "values": [0, 1e-9, 2e-9, 3e-9, 4e-9, 5e-9, 6e-9, 7e-9], "labelPadding": 12,
    "labelExpr": "datum.value == 0 ? '0,00E+00' : (datum.value < 9.5e-9 ? replace(format(datum.value*1e9, '.2f'), '.', ',') + 'E-09' : replace(format(datum.value*1e8, '.2f'), '.', ',') + 'E-08')",
    "title": "Intensity (A)", "titleAngle": 270, "titleX": -75, "titleY": 221, "titleAlign": "center", "titleBaseline": "middle"}}}},
 {"transform": [{"filter": "datum.mz == 'm/z=78' || datum.mz == 'm/z=104'"}],
  "mark": {"type": "line", "strokeWidth": 2.5, "strokeJoin": "round"},
  "encoding": {"y": {"field": "I", "type": "quantitative", "scale": {"domain": [0, 1.4e-8], "nice": false},
   "axis": {"orient": "right", "values": [0, 2e-9, 4e-9, 6e-9, 8e-9, 1e-8, 1.2e-8, 1.4e-8], "labelPadding": 12,
    "labelExpr": "datum.value == 0 ? '0,00E+00' : (datum.value < 9.5e-9 ? replace(format(datum.value*1e9, '.2f'), '.', ',') + 'E-09' : replace(format(datum.value*1e8, '.2f'), '.', ',') + 'E-08')",
    "title": "Intensity (A) pro m/z = 104 a m/z=78", "titleAngle": 270, "titleX": 77, "titleY": 219, "titleAlign": "center", "titleBaseline": "middle"}}}}
],
"resolve": {"scale": {"y": "independent"}}
}
